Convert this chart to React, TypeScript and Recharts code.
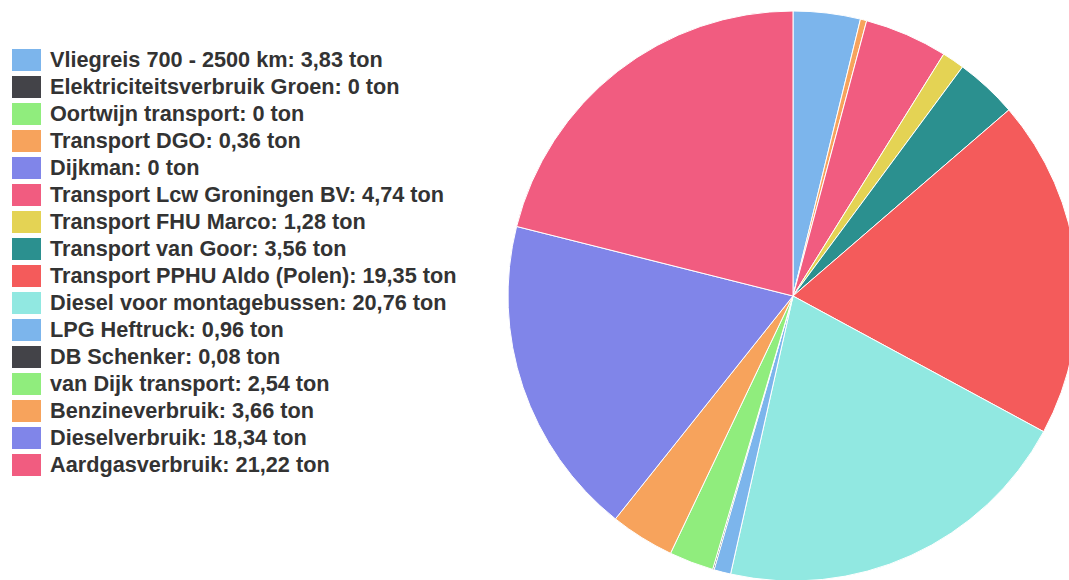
import { Cell, Pie, PieChart } from 'recharts';

const categories = [
  'Vliegreis 700 - 2500 km',
  'Elektriciteitsverbruik Groen',
  'Oortwijn transport',
  'Transport DGO',
  'Dijkman',
  'Transport Lcw Groningen BV',
  'Transport FHU Marco',
  'Transport van Goor',
  'Transport PPHU Aldo (Polen)',
  'Diesel voor montagebussen',
  'LPG Heftruck',
  'DB Schenker',
  'van Dijk transport',
  'Benzineverbruik',
  'Dieselverbruik',
  'Aardgasverbruik',
];

const tonnes = [3.83, 0, 0, 0.36, 0, 4.74, 1.28, 3.56, 19.35, 20.76, 0.96, 0.08, 2.54, 3.66, 18.34, 21.22];

const palette = ['#7cb5ec', '#434348', '#90ed7d', '#f7a35c', '#8085e9', '#f15c80', '#e4d354', '#2b908f', '#f45b5b', '#91e8e1'];

const data = categories.map((name, i) => ({ name, value: tonnes[i] }));

const fmt = (v: number) => v.toString().replace('.', ',');

function LegendList() {
  return (
    <div
      style={{
        position: 'absolute',
        left: 12,
        top: 46.5,
        fontFamily: '"Liberation Sans", Arial, sans-serif',
        fontWeight: 700,
        fontSize: 21.7,
        color: '#333333',
      }}
    >
      {data.map((d, i) => (
        <div key={d.name} style={{ display: 'flex', alignItems: 'center', height: 27 }}>
          <span style={{ width: 29, height: 22, background: palette[i % palette.length], marginRight: 9, flexShrink: 0 }} />
          <span style={{ whiteSpace: 'nowrap' }}>{`${d.name}: ${fmt(d.value)} ton`}</span>
        </div>
      ))}
    </div>
  );
}

export default function App() {
  return (
    <div style={{ position: 'absolute', left: 0, top: 0, width: 1069, height: 580, background: '#fff' }}>
      <PieChart width={1069} height={580} margin={{ top: 0, right: 0, bottom: 0, left: 0 }}>
        <Pie
          data={data}
          dataKey="value"
          nameKey="name"
          cx={793}
          cy={296}
          outerRadius={285}
          startAngle={90}
          endAngle={-270}
          stroke="#ffffff"
          strokeWidth={1}
          isAnimationActive={false}
        >
          {data.map((d, i) => (
            <Cell key={d.name} fill={palette[i % palette.length]} />
          ))}
        </Pie>
      </PieChart>
      <LegendList />
    </div>
  );
}
